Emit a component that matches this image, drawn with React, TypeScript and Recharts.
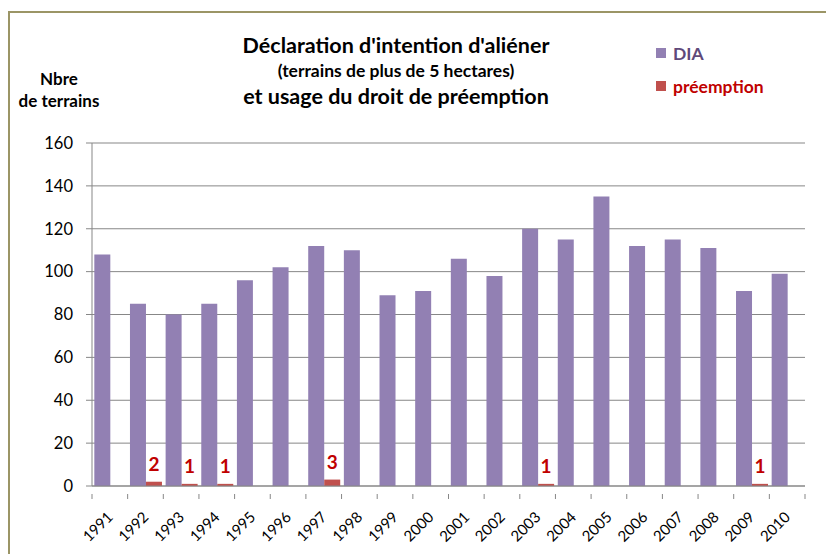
import { Bar, BarChart, CartesianGrid, LabelList, XAxis, YAxis } from "recharts";

const years = [
  "1991", "1992", "1993", "1994", "1995", "1996", "1997", "1998", "1999", "2000",
  "2001", "2002", "2003", "2004", "2005", "2006", "2007", "2008", "2009", "2010",
];
const dia = [108, 85, 80, 85, 96, 102, 112, 110, 89, 91, 106, 98, 120, 115, 135, 112, 115, 111, 91, 99];
const preemption = [0, 2, 1, 1, 0, 0, 3, 0, 0, 0, 0, 0, 1, 0, 0, 0, 0, 0, 1, 0];
const yTicks = [0, 20, 40, 60, 80, 100, 120, 140, 160];

const data = years.map((year, i) => ({ year, dia: dia[i], preemption: preemption[i] }));

const FONT = "Lato, 'Open Sans', sans-serif";
const PURPLE = "#9280B3";
const RED = "#C0504D";
const AXIS = "#878787";

const CHART_W = 826;
const CHART_H = 546;
const MARGIN = { top: 135, right: 31, left: 0, bottom: 0 };
const Y_W = 82;
const BAND = (CHART_W - MARGIN.right - Y_W) / years.length;

function YearTick(props: any) {
  const { x, y, payload, index } = props;
  const half = BAND / 2;
  return (
    <g>
      <line x1={x - half} y1={y} x2={x - half} y2={y + 5} stroke={AXIS} />
      {index === years.length - 1 && <line x1={x + half} y1={y} x2={x + half} y2={y + 5} stroke={AXIS} />}
      <text
        x={x + 4}
        y={y + 24}
        transform={`rotate(-45, ${x + 4}, ${y + 24})`}
        textAnchor="end"
        fontSize={15}
        fontFamily={FONT}
        fill="#000"
      >
        {payload.value}
      </text>
    </g>
  );
}

function PreLabel(props: any) {
  const { x, y, width, value } = props;
  if (!value) return null;
  return (
    <text x={x + width / 2} y={y - 11} textAnchor="middle" fontSize={19} fontWeight={700} fontFamily={FONT} fill="#C00000">
      {value}
    </text>
  );
}

export default function App() {
  return (
    <div
      style={{
        position: "relative",
        width: CHART_W,
        height: CHART_H,
        fontFamily: FONT,
        borderTop: "2px solid #9B9566",
        borderLeft: "2px solid #9B9566",
        marginTop: 3,
        boxSizing: "border-box",
      }}
    >
      <div style={{ position: "absolute", left: 0, top: -5, width: CHART_W, height: CHART_H }}>
        <BarChart width={CHART_W} height={CHART_H} data={data} margin={MARGIN} barCategoryGap="6.5%" barGap={0}>
          <CartesianGrid vertical={false} stroke={AXIS} strokeWidth={1} />
          <XAxis
            dataKey="year"
            stroke={AXIS}
            tickLine={false}
            height={68}
            interval={0}
            tick={<YearTick />}
          />
          <YAxis
            domain={[0, 160]}
            ticks={yTicks}
            width={Y_W}
            stroke={AXIS}
            tickSize={6}
            tickMargin={13}
            tick={{ fontSize: 16.5, fill: "#000", fontFamily: FONT }}
          />
          <Bar dataKey="dia" fill={PURPLE} isAnimationActive={false} />
          <Bar dataKey="preemption" fill={RED} isAnimationActive={false}>
            <LabelList dataKey="preemption" content={<PreLabel />} />
          </Bar>
        </BarChart>
      </div>

      <div style={{ position: "absolute", left: 0, width: 98, top: 55, textAlign: "center", fontWeight: 700, fontSize: 17, lineHeight: "22px" }}>
        Nbre
        <br />
        de terrains
      </div>

      <div style={{ position: "absolute", left: 186, width: 400, top: 19, textAlign: "center", fontWeight: 700, color: "#000" }}>
        <div style={{ fontSize: 21.5, lineHeight: "27px" }}>Déclaration d'intention d'aliéner</div>
        <div style={{ fontSize: 17.5, lineHeight: "23px" }}>(terrains de plus de 5 hectares)</div>
        <div style={{ fontSize: 21.5, lineHeight: "29px" }}>et usage du droit de préemption</div>
      </div>

      <div style={{ position: "absolute", left: 646, top: 29, fontWeight: 700, fontSize: 17.5 }}>
        <div style={{ display: "flex", alignItems: "center", height: 22, marginBottom: 11 }}>
          <span style={{ width: 10, height: 10, background: PURPLE, marginRight: 7 }} />
          <span style={{ color: "#5F497A" }}>DIA</span>
        </div>
        <div style={{ display: "flex", alignItems: "center", height: 22 }}>
          <span style={{ width: 10, height: 10, background: RED, marginRight: 7 }} />
          <span style={{ color: "#C00000" }}>préemption</span>
        </div>
      </div>
    </div>
  );
}
